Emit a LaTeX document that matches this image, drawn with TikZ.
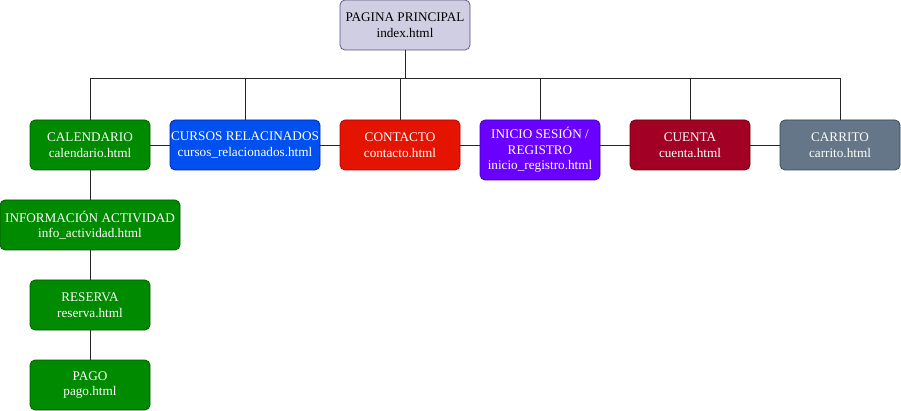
\documentclass[tikz,border=0pt]{standalone}
\usepackage{fontspec}
\setmainfont{Liberation Serif}
\usepackage{xcolor}
\usetikzlibrary{positioning}
\definecolor{lavfill}{HTML}{D0CEE2}
\definecolor{lavline}{HTML}{56517E}
\definecolor{grnfill}{HTML}{008A00}
\definecolor{grnline}{HTML}{005700}
\definecolor{bluefill}{HTML}{0050EF}
\definecolor{blueline}{HTML}{001DBC}
\definecolor{redfill}{HTML}{E51400}
\definecolor{redline}{HTML}{B20000}
\definecolor{violfill}{HTML}{6A00FF}
\definecolor{violline}{HTML}{3700CC}
\definecolor{crimfill}{HTML}{A20025}
\definecolor{crimline}{HTML}{6F0000}
\definecolor{slatefill}{HTML}{647687}
\definecolor{slateline}{HTML}{314354}

\begin{document}
\begin{tikzpicture}[
  x=1pt, y=-1pt,
  every node/.style={rectangle, rounded corners=5pt, align=center},
  page/.style={line width=0.7pt, text=white, inner sep=1pt,
    font=\fontsize{13.2}{15.5}\selectfont,
    minimum width=120pt, minimum height=50pt},
  link/.style={line width=0.7pt, black!85}
]
\useasboundingbox (0,0) rectangle (901,411);

% Top node: main page
\node[page, fill=lavfill, draw=lavline, text=black, minimum width=130pt]
  (main) at (405,25) {PAGINA PRINCIPAL\\index.html};

% Second row
\node[page, fill=grnfill, draw=grnline] (cal) at (90,145)
  {CALENDARIO\\calendario.html};
\node[page, fill=bluefill, draw=blueline, minimum width=150pt] (cur) at (245,145)
  {CURSOS RELACINADOS\\cursos\_relacionados.html};
\node[page, fill=redfill, draw=redline] (con) at (400,145)
  {CONTACTO\\contacto.html};
\node[page, fill=violfill, draw=violline, minimum height=60pt] (ini) at (540,150)
  {INICIO SESIÓN /\\REGISTRO\\inicio\_registro.html};
\node[page, fill=crimfill, draw=crimline] (cue) at (690,145)
  {CUENTA\\cuenta.html};
\node[page, fill=slatefill, draw=slateline] (car) at (840,145)
  {CARRITO\\carrito.html};

% Calendar branch
\node[page, fill=grnfill, draw=grnline, minimum width=180pt] (info) at (90,225)
  {INFORMACIÓN ACTIVIDAD\\info\_actividad.html};
\node[page, fill=grnfill, draw=grnline] (res) at (90,305)
  {RESERVA\\reserva.html};
\node[page, fill=grnfill, draw=grnline] (pago) at (90,385)
  {PAGO\\pago.html};

% Tree lines
\coordinate (bus) at (405,78);
\draw[link] (main) -- (bus);
\foreach \n in {cal,cur,con,ini,cue,car}
  \draw[link] (bus) -| (\n);

% Sibling lines
\draw[link] (cal) -- (cur);
\draw[link] (cur) -- (con);
\draw[link] (con.east) -- (con.east -| ini.west);
\draw[link] (cue.west) -- (cue.west -| ini.east);
\draw[link] (cue) -- (car);

% Calendar chain
\draw[link] (cal) -- (info);
\draw[link] (info) -- (res);
\draw[link] (res) -- (pago);

\end{tikzpicture}
\end{document}
